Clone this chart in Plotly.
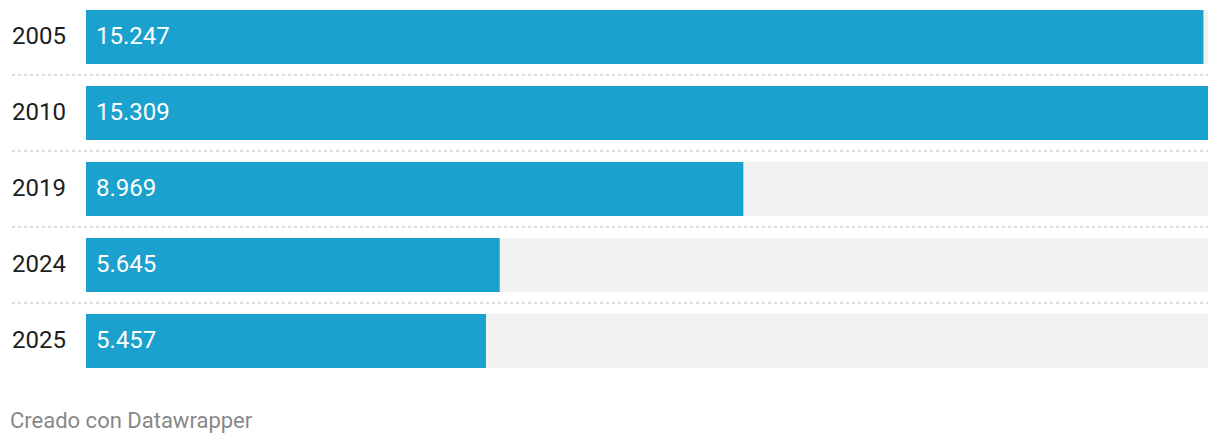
import plotly.graph_objects as go

# data
years = ['2005', '2010', '2019', '2024', '2025']
values = [15.247, 15.309, 8.969, 5.645, 5.457]
value_labels = ['15.247', '15.309', '8.969', '5.645', '5.457']

# the page body has an 8px margin, so draw on a slightly smaller canvas
OFF = 8
W, H = 1220 - OFF, 444 - OFF
BAR_COLOR = '#1aa1cd'
BG_COLOR = '#f2f2f2'


def px(x):
    # page pixel -> paper fraction (x)
    return (x - OFF) / W


def py(y):
    # page pixel -> paper fraction (y, from bottom)
    return 1 - (y - OFF) / H


rows = list(range(len(years)))
vmax = max(values)

fig = go.Figure()

# gray background bars (full width)
fig.add_trace(go.Bar(
    x=[vmax] * len(years), y=rows, orientation='h',
    marker=dict(color=BG_COLOR, line=dict(width=0)),
    width=54 / 76, hoverinfo='skip', showlegend=False))

# value bars
fig.add_trace(go.Bar(
    x=values, y=rows, orientation='h',
    marker=dict(color=BAR_COLOR, line=dict(width=0)),
    width=54 / 76, hovertext=years, showlegend=False))

annotations = []
for i, (yr, lab) in enumerate(zip(years, value_labels)):
    # year label on the left
    annotations.append(dict(
        x=px(10), xref='paper', y=i, yref='y', text=yr, showarrow=False,
        xanchor='left', yanchor='middle', yshift=1,
        font=dict(family='Roboto', size=24, color='#1d1d1d')))
    # value inside bar
    annotations.append(dict(
        x=0, xref='x', y=i, yref='y', text=lab, showarrow=False,
        xanchor='left', yanchor='middle', xshift=8, yshift=1,
        font=dict(family='Roboto', size=24, color='white')))

# footer
annotations.append(dict(
    x=px(8), xref='paper', y=py(420), yref='paper', yanchor='middle',
    xanchor='left', text='Creado con Datawrapper', showarrow=False,
    font=dict(family='Roboto', size=22, color='#888888')))

# dotted separators between rows
shapes = []
for i in range(len(years) - 1):
    shapes.append(dict(
        type='line', xref='paper', yref='y',
        x0=px(12), x1=px(1208), y0=i + 0.5, y1=i + 0.5,
        line=dict(color='#d0d0d0', width=1.5, dash='dot')))

fig.update_layout(
    width=W, height=H,
    margin=dict(l=0, r=0, t=0, b=0),
    paper_bgcolor='white', plot_bgcolor='white',
    barmode='overlay',
    xaxis=dict(domain=[px(86), px(1208)], range=[0, vmax],
               showgrid=False, zeroline=False, showticklabels=False, fixedrange=True),
    yaxis=dict(range=[(444 - 37) / 76, (OFF - 37) / 76],
               showgrid=False, zeroline=False, showticklabels=False, fixedrange=True),
    annotations=annotations,
    shapes=shapes,
    font=dict(family='Roboto'),
)

fig.write_html("out.html")
